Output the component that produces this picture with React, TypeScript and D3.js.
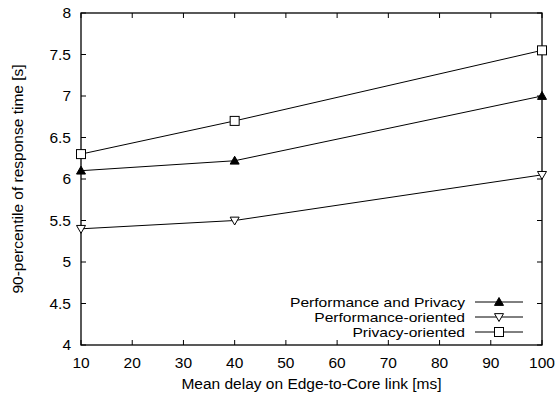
import React, { useEffect, useRef } from "react";
import * as d3 from "d3";

// x values (ms)
const delays = [10, 40, 100];
const perfAndPrivacy = [6.1, 6.22, 7.0];
const perfOriented = [5.4, 5.5, 6.05];
const privacyOriented = [6.3, 6.7, 7.55];
const xTicks = [10, 20, 30, 40, 50, 60, 70, 80, 90, 100];
const yTicks = [4, 4.5, 5, 5.5, 6, 6.5, 7, 7.5, 8];

const seriesList = [
  { name: "Performance and Privacy", values: perfAndPrivacy, marker: "triUp" },
  { name: "Performance-oriented", values: perfOriented, marker: "triDown" },
  { name: "Privacy-oriented", values: privacyOriented, marker: "square" },
];

const App = () => {
  const ref = useRef<SVGSVGElement>(null);

  useEffect(() => {
    const width = 557;
    const height = 397;
    const margin = { top: 13, right: 15, bottom: 52, left: 81 };
    const font = "Liberation Sans, Arial, Helvetica, sans-serif";
    const fs = 15.5;

    const svg = d3.select(ref.current);
    svg.selectAll("*").remove();

    const x = d3.scaleLinear().domain([10, 100]).range([margin.left, width - margin.right]);
    const y = d3.scaleLinear().domain([4, 8]).range([height - margin.bottom, margin.top]);

    const g = svg.append("g");

    // ticks, inward on all four sides
    const tk = 5;
    xTicks.forEach((t) => {
      g.append("line").attr("x1", x(t)).attr("x2", x(t))
        .attr("y1", y(4)).attr("y2", y(4) - tk).attr("stroke", "#000");
      g.append("line").attr("x1", x(t)).attr("x2", x(t))
        .attr("y1", y(8)).attr("y2", y(8) + tk).attr("stroke", "#000");
      g.append("text").attr("x", x(t)).attr("y", 368)
        .attr("text-anchor", "middle").attr("font-family", font).attr("font-size", fs)
        .text(t);
    });
    yTicks.forEach((t) => {
      g.append("line").attr("x1", x(10)).attr("x2", x(10) + tk)
        .attr("y1", y(t)).attr("y2", y(t)).attr("stroke", "#000");
      g.append("line").attr("x1", x(100)).attr("x2", x(100) - tk)
        .attr("y1", y(t)).attr("y2", y(t)).attr("stroke", "#000");
      g.append("text").attr("x", x(10) - 10).attr("y", y(t))
        .attr("dy", "0.35em")
        .attr("text-anchor", "end").attr("font-family", font).attr("font-size", fs)
        .text(t);
    });

    // frame
    g.append("rect")
      .attr("x", x(10)).attr("y", y(8))
      .attr("width", x(100) - x(10)).attr("height", y(4) - y(8))
      .attr("fill", "none").attr("stroke", "#000").attr("stroke-width", 1.3);

    // axis titles
    g.append("text")
      .attr("x", (x(10) + x(100)) / 2).attr("y", 389)
      .attr("text-anchor", "middle").attr("font-family", font).attr("font-size", fs)
      .text("Mean delay on Edge-to-Core link [ms]");
    g.append("text")
      .attr("transform", `translate(23,${(y(4) + y(8)) / 2}) rotate(-90)`)
      .attr("text-anchor", "middle").attr("font-family", font).attr("font-size", fs)
      .text("90-percentile of response time [s]");

    const drawMarker = (sel: any, type: string, cx: number, cy: number) => {
      const s = 4.5;
      if (type === "square") {
        sel.append("rect").attr("x", cx - s).attr("y", cy - s)
          .attr("width", 2 * s).attr("height", 2 * s)
          .attr("fill", "#fff").attr("stroke", "#000");
      } else if (type === "triUp") {
        sel.append("path")
          .attr("d", `M${cx},${cy - s}L${cx + s},${cy + s * 0.75}L${cx - s},${cy + s * 0.75}Z`)
          .attr("fill", "#000").attr("stroke", "#000");
      } else {
        sel.append("path")
          .attr("d", `M${cx},${cy + s}L${cx + s},${cy - s * 0.75}L${cx - s},${cy - s * 0.75}Z`)
          .attr("fill", "#fff").attr("stroke", "#000");
      }
    };

    const line = d3.line<number>().x((_, i) => x(delays[i])).y((d) => y(d));

    seriesList.forEach((s) => {
      g.append("path").attr("d", line(s.values)).attr("fill", "none")
        .attr("stroke", "#000").attr("stroke-width", 1);
      s.values.forEach((v, i) => drawMarker(g, s.marker, x(delays[i]), y(v)));
    });

    // legend (text a bit wider than tall, like the original)
    const lg = svg.append("g");
    seriesList.forEach((s, i) => {
      const ly = 302 + i * 15;
      lg.append("text")
        .attr("transform", `translate(465,${ly}) scale(1.2,1)`)
        .attr("dy", "0.35em")
        .attr("text-anchor", "end").attr("font-family", font).attr("font-size", 13)
        .text(s.name);
      lg.append("line").attr("x1", 475).attr("x2", 523).attr("y1", ly).attr("y2", ly)
        .attr("stroke", "#000");
      drawMarker(lg, s.marker, 499, ly);
    });
  }, []);

  return <svg ref={ref} width={557} height={397} style={{ position: "absolute", left: 0, top: 0, background: "#fff" }} />;
};

export default App;
